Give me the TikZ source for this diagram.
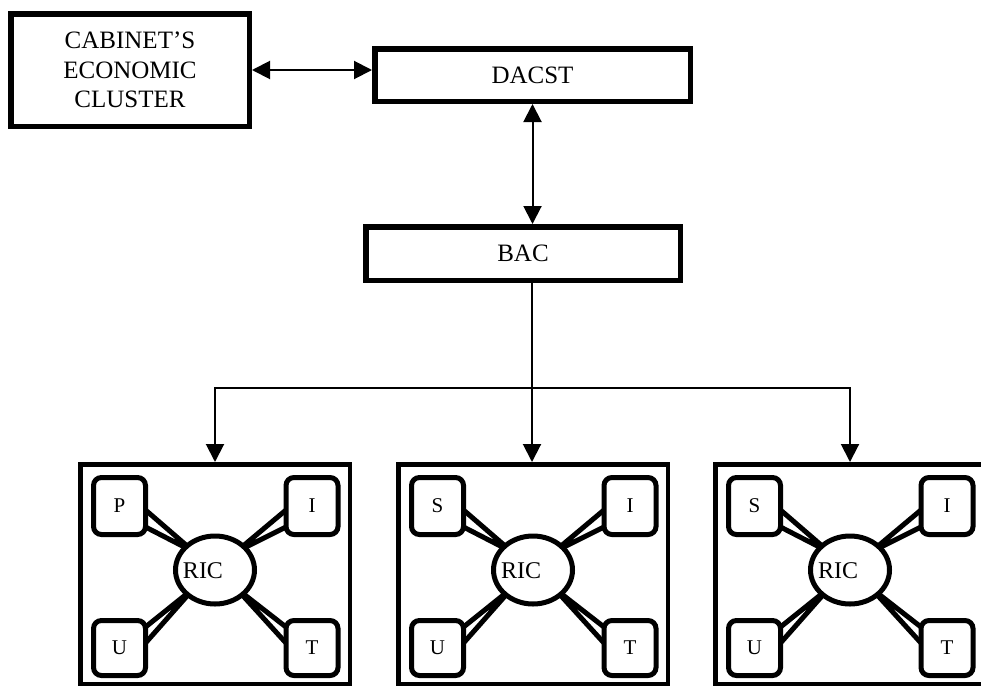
\documentclass[tikz,border=0pt]{standalone}
\usepackage{fontspec}
\setmainfont{Liberation Serif}
\usetikzlibrary{arrows.meta,calc,shapes.geometric}
\pgfdeclarelayer{bg}
\pgfsetlayers{bg,main}
\tikzset{
 bigbox/.style={draw, line width=5.5pt, rectangle, align=center, inner sep=0pt,
   font=\fontsize{25}{29.5}\selectfont},
 grpbox/.style={draw, line width=4.5pt, rectangle, minimum width=269.5pt,
   minimum height=219.5pt, inner sep=0pt},
 smallbox/.style={draw, fill=white, line width=5pt, rounded corners=8pt,
   minimum width=52pt, inner sep=0pt, outer sep=0pt, font=\fontsize{21}{24}\selectfont},
 ricnode/.style={draw, fill=white, ellipse, line width=5pt, minimum width=79pt,
   minimum height=68pt, inner sep=0pt, outer sep=0pt},
 rictext/.style={inner sep=0pt, font=\fontsize{24}{27}\selectfont},
 wedgeline/.style={line width=5pt, line join=miter, miter limit=30},
 conn/.style={line width=2pt, -{Triangle[length=18pt,width=18pt]}},
 conntwo/.style={line width=2pt, {Triangle[length=18pt,width=18pt]}-{Triangle[length=18pt,width=18pt]}},
}
\newcommand\ricgroup[6]{%
 \node[grpbox] (#1) at (#2+137,574) {};
 \node[smallbox, minimum height=57pt] (#1ul) at (#2+41.5,506) {#3};
 \node[smallbox, minimum height=57pt] (#1ur) at (#2+234,506) {#4};
 \node[smallbox, minimum height=55pt] (#1ll) at (#2+41.5,648) {#5};
 \node[smallbox, minimum height=55pt] (#1lr) at (#2+234,648) {#6};
 \node[ricnode] (#1ric) at (#2+137,570) {};
 \node[rictext] (#1rictext) at (#2+125,571) {RIC};
 \coordinate (#1tul) at ($(#1ric.north west)!0.25!(#1ric.center)$);
 \coordinate (#1tur) at ($(#1ric.north east)!0.25!(#1ric.center)$);
 \coordinate (#1tll) at ($(#1ric.south west)!0.25!(#1ric.center)$);
 \coordinate (#1tlr) at ($(#1ric.south east)!0.25!(#1ric.center)$);
 \coordinate (#1ula) at ($(#1ul.east)+(0,4)$);
 \coordinate (#1ulb) at ($(#1ul.east)+(0,21)$);
 \coordinate (#1ura) at ($(#1ur.west)+(0,4)$);
 \coordinate (#1urb) at ($(#1ur.west)+(0,21)$);
 \coordinate (#1lla) at ($(#1ll.east)+(0,-21)$);
 \coordinate (#1llb) at ($(#1ll.east)+(0,-5)$);
 \coordinate (#1lra) at ($(#1lr.west)+(0,-21)$);
 \coordinate (#1lrb) at ($(#1lr.west)+(0,-5)$);
 \begin{pgfonlayer}{bg}
  \draw[wedgeline] ($(#1tul)!1.5!(#1ula)$) -- (#1tul) -- ($(#1tul)!1.5!(#1ulb)$);
  \draw[wedgeline] ($(#1tur)!1.5!(#1ura)$) -- (#1tur) -- ($(#1tur)!1.5!(#1urb)$);
  \draw[wedgeline] ($(#1tll)!1.5!(#1lla)$) -- (#1tll) -- ($(#1tll)!1.5!(#1llb)$);
  \draw[wedgeline] ($(#1tlr)!1.5!(#1lra)$) -- (#1tlr) -- ($(#1tlr)!1.5!(#1lrb)$);
 \end{pgfonlayer}
}
\begin{document}
\begin{tikzpicture}[x=1pt,y=-1pt]
\useasboundingbox (0,0) rectangle (981,688);
\clip (0,0) rectangle (981,688);
\begin{pgfonlayer}{bg}
 \fill[white] (0,0) rectangle (981,688);
\end{pgfonlayer}

\node[bigbox, minimum width=238.5pt, minimum height=112.5pt] (cab) at (130,70)
  {CABINET'S\\ECONOMIC\\CLUSTER};
\node[bigbox, minimum width=315.5pt, minimum height=52.5pt] (dacst) at (532.5,75) {DACST};
\node[bigbox, minimum width=314.5pt, minimum height=53.5pt] (bac) at (523,253.5) {BAC};

\draw[conntwo] (cab.east) -- (cab.east -| dacst.west);
\draw[conntwo] (dacst.south) -- (dacst.south |- bac.north);

\ricgroup{ga}{78}{P}{I}{U}{T}
\ricgroup{gb}{396}{S}{I}{U}{T}
\ricgroup{gc}{713}{S}{I}{U}{T}

\coordinate (junc) at (532,388);
\draw[line width=2pt] (bac.south -| junc) -- (junc);
\draw[conn] (junc) -| (ga.north);
\draw[conn] (junc) -- (junc |- gb.north);
\draw[conn] (junc) -| (gc.north);
\end{tikzpicture}
\end{document}
